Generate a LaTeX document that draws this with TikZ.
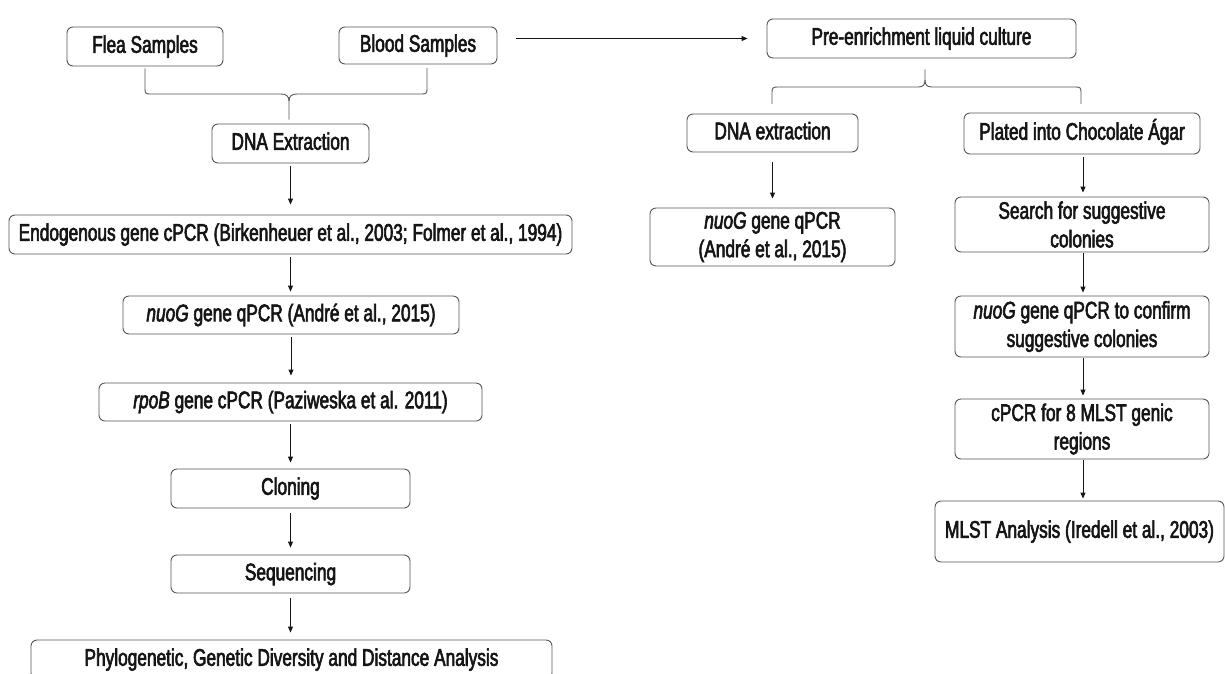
\documentclass[tikz,border=0pt]{standalone}
\usepackage{fontspec}
\setmainfont{Liberation Sans}[FakeStretch=0.72,FakeBold=2.5]
\usetikzlibrary{arrows.meta,calc}
\definecolor{boxline}{HTML}{555555}
\definecolor{ink}{HTML}{151515}
\begin{document}
\begin{tikzpicture}[x=1pt,y=-1pt,
  box/.style={draw=boxline,line width=0.9pt,rounded corners=6pt,fill=white,
    font=\fontsize{24}{28.5}\selectfont,text=ink,inner sep=0pt,align=center},
  one/.style={text height=17pt,text depth=4.5pt},
  arr/.style={draw=ink,line width=0.9pt,-{Triangle[length=6pt,width=5pt]},
    shorten <=3pt,shorten >=5pt},
  brace/.style={draw=boxline,line width=0.9pt}]
\useasboundingbox (0,0) rectangle (1225,673);
% left column
\node[box,one,minimum width=156pt,minimum height=39pt] (flea) at (145,46.5) {Flea Samples};
\node[box,one,minimum width=158pt,minimum height=37pt] (blood) at (418,45.5) {Blood Samples};
\node[box,one,minimum width=157pt,minimum height=39pt] (dnaL) at (290.5,143.5) {DNA Extraction};
\node[box,one,minimum width=563pt,minimum height=39pt] (endo) at (290.5,234.5) {Endogenous gene cPCR (Birkenheuer et al., 2003; Folmer et al., 1994)};
\node[box,one,minimum width=336pt,minimum height=38pt] (nuoL) at (291,315) {\textit{nuoG} gene qPCR (André et al., 2015)};
\node[box,one,minimum width=383pt,minimum height=38pt] (rpob) at (290.5,402) {\textit{rpoB} gene cPCR (Paziweska et al. 2011)};
\node[box,one,minimum width=239pt,minimum height=39pt] (clon) at (290.5,488.5) {Cloning};
\node[box,one,minimum width=239pt,minimum height=38pt] (seq) at (290.5,574) {Sequencing};
\node[box,one,minimum width=521pt,minimum height=39pt] (phylo) at (291.5,659.5) {Phylogenetic, Genetic Diversity and Distance Analysis};
% right part
\node[box,one,minimum width=309pt,minimum height=39pt] (pre) at (921.5,38.5) {Pre-enrichment liquid culture};
\node[box,one,minimum width=171pt,minimum height=38pt] (dnaR) at (772.5,133) {DNA extraction};
\node[box,minimum width=245pt,minimum height=58pt] (nuoR) at (772.5,237) {\textit{nuoG} gene qPCR\\(André et al., 2015)};
\node[box,one,minimum width=236pt,minimum height=41pt] (plate) at (1082,133.5) {Plated into Chocolate Ágar};
\node[box,minimum width=254pt,minimum height=55pt] (search) at (1082,224.5) {Search for suggestive\\colonies};
\node[box,minimum width=254pt,minimum height=61pt] (confirm) at (1082,326.5) {\textit{nuoG} gene qPCR to confirm\\suggestive colonies};
\node[box,minimum width=254pt,minimum height=60pt] (cpcr) at (1082,429) {cPCR for 8 MLST genic\\regions};
\node[box,one,minimum width=289pt,minimum height=61pt] (mlst) at (1079.5,531.5) {MLST Analysis (Iredell et al., 2003)};
% braces
\coordinate (bBlood) at (427,68);
\draw[brace] ($(flea.south)+(0,2)$) -- (145,89) .. controls (145,93) and (146,94) .. (150,94)
  -- (281,94) .. controls (286,94) and (289,96) .. (289,101) -- ($(dnaL.north)+(-1.5,-4)$);
\draw[brace] (bBlood) -- (427,89) .. controls (427,93) and (426,94) .. (422,94)
  -- (297,94) .. controls (292,94) and (289,96) .. (289,101);
\coordinate (rL) at (772,104);
\coordinate (rR) at (1081,104);
\draw[brace] ($(pre.south)+(3.5,11)$) -- (925,80) .. controls (925,85) and (923,87) .. (918,87)
  -- (777,87) .. controls (773,87) and (772,88) .. (772,92) -- (rL);
\draw[brace] (925,80) .. controls (925,85) and (927,87) .. (932,87)
  -- (1076,87) .. controls (1080,87) and (1081,88) .. (1081,92) -- (rR);
% arrows
\draw[arr,shorten <=19pt,shorten >=19pt] (blood.east |- pre.west) -- (pre.west);
\draw[arr,shorten >=10pt] (dnaL.south) -- (dnaL.south |- endo.north);
\draw[arr,shorten >=4pt] (endo.south) -- (endo.south |- nuoL.north);
\draw[arr,shorten >=7pt] (nuoL.south) -- (nuoL.south |- rpob.north);
\draw[arr,shorten >=6pt] (rpob.south) -- (rpob.south |- clon.north);
\draw[arr,shorten <=5pt,shorten >=7pt] (clon.south) -- (clon.south |- seq.north);
\draw[arr,shorten <=5pt,shorten >=7pt] (seq.south) -- (seq.south |- phylo.north);
\draw[arr,shorten <=10pt,shorten >=9pt] (dnaR.south) -- (dnaR.south |- nuoR.north);
\draw[arr,shorten >=4pt] ($(plate.south)+(1,0)$) -- ($(plate.south |- search.north)+(1,0)$);
\draw[arr,shorten <=1pt,shorten >=3pt] ($(search.south)+(1,0)$) -- ($(search.south |- confirm.north)+(1,0)$);
\draw[arr,shorten <=1pt,shorten >=3pt] ($(confirm.south)+(1,0)$) -- ($(confirm.south |- cpcr.north)+(1,0)$);
\draw[arr,shorten <=1pt,shorten >=2pt] ($(cpcr.south)+(1,0)$) -- ($(cpcr.south |- mlst.north)+(1,0)$);
\end{tikzpicture}
\end{document}
